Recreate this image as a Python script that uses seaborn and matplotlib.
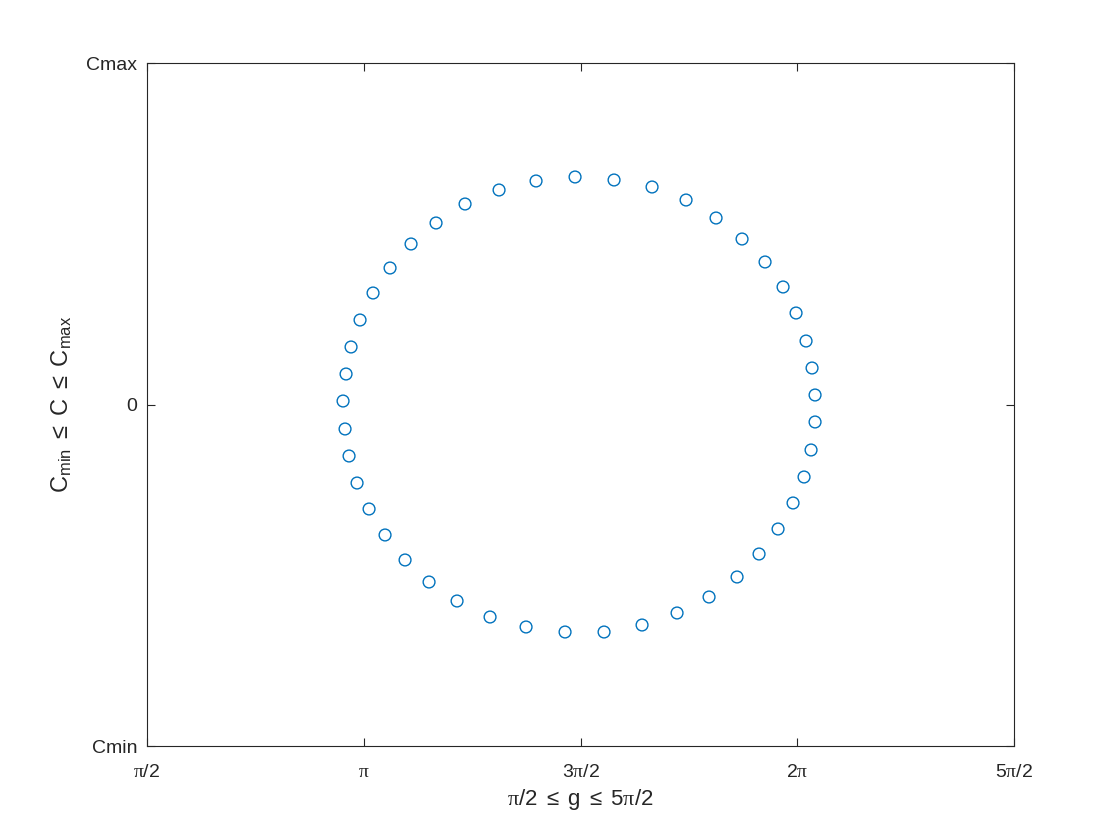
import numpy as np
import pandas as pd
import matplotlib
matplotlib.use("Agg")
import matplotlib.pyplot as plt
import seaborn as sns

# Data (g in radians, C normalised so Cmin=-1, Cmax=1)
g_values = [4.6726, 4.9552, 5.2306, 5.4770, 5.6944, 5.8828, 6.0495, 6.1800, 6.2742,
            6.3466, 6.3901, 6.4119, 6.4119, 6.3829, 6.3321, 6.2524, 6.1437, 6.0060,
            5.8466, 5.6437, 5.4118, 5.1581, 4.8827, 4.6001, 4.3175, 4.0566, 3.8174,
            3.6145, 3.4406, 3.2956, 3.1797, 3.0927, 3.0347, 3.0057, 2.9912, 3.0130,
            3.0492, 3.1144, 3.2086, 3.3318, 3.4840, 3.6652, 3.8754, 4.1218, 4.3899]
c_values = [0.6662, 0.6574, 0.6369, 0.5988, 0.5461, 0.4846, 0.4173, 0.3441, 0.2679,
            0.1859, 0.1069, 0.0278, -0.0512, -0.1332, -0.2123, -0.2884, -0.3646, -0.4378,
            -0.5051, -0.5637, -0.6105, -0.6457, -0.6662, -0.6662, -0.6515, -0.6223, -0.5754,
            -0.5198, -0.4553, -0.3821, -0.3060, -0.2299, -0.1508, -0.0717, 0.0102, 0.0893,
            0.1684, 0.2474, 0.3265, 0.3997, 0.4700, 0.5315, 0.5871, 0.6281, 0.6545]

x_tick_vals = [np.pi / 2, np.pi, 3 * np.pi / 2, 2 * np.pi, 5 * np.pi / 2]
x_tick_labels = [r"$\pi/2$", r"$\pi$", r"$3\pi/2$", r"$2\pi$", r"$5\pi/2$"]
y_tick_vals = [-1, 0, 1]
y_tick_labels = ["Cmin", "0", "Cmax"]

sns.set_style("white")
plt.rcParams["font.family"] = ["Liberation Sans", "DejaVu Sans"]
plt.rcParams["mathtext.fontset"] = "custom"
plt.rcParams["mathtext.rm"] = "Liberation Sans"
plt.rcParams["mathtext.it"] = "Liberation Serif"
plt.rcParams["mathtext.sf"] = "Liberation Sans"

df = pd.DataFrame({"g": g_values, "C": c_values})

fig = plt.figure(figsize=(11.2, 8.4), dpi=100)
ax = fig.add_axes([0.1313, 0.1119, 0.7741, 0.8131])

sns.scatterplot(data=df, x="g", y="C", ax=ax, marker="o", s=72,
                facecolors="none", edgecolor="#0072BD", linewidth=1.0)

ax.set_xlim(np.pi / 2, 5 * np.pi / 2)
ax.set_ylim(-1, 1)
ax.set_xticks(x_tick_vals)
ax.set_xticklabels(x_tick_labels, fontsize=14)
ax.set_yticks(y_tick_vals)
ax.set_yticklabels(y_tick_labels, fontsize=14)
ax.tick_params(direction="in", length=6, width=0.8, top=True, right=True,
               bottom=True, left=True, colors="#262626", labelcolor="#262626")
ax.tick_params(axis="y", pad=7)
ax.tick_params(axis="x", pad=13)
for sp in ax.spines.values():
    sp.set_visible(True)
    sp.set_color("#262626")
    sp.set_linewidth(0.8)

ax.set_xlabel(r"$\pi/2\ \leq\ \mathrm{g}\ \leq\ 5\pi/2$", fontsize=16, color="#262626", labelpad=4)
ax.set_ylabel(r"$\mathrm{C_{min}}\ \leq\ \mathrm{C}\ \leq\ \mathrm{C_{max}}$", fontsize=17,
              color="#262626", labelpad=9)

fig.savefig("out.png", dpi=100, facecolor="white")
